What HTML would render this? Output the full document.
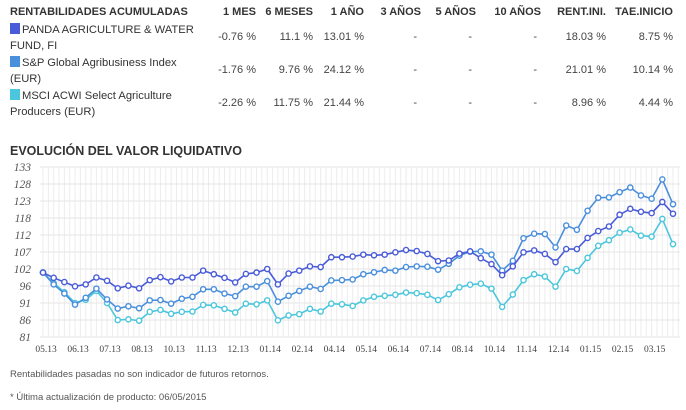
<!DOCTYPE html>
<html><head><meta charset="utf-8"><style>
body{margin:0;width:686px;height:410px;background:#fff;font-family:"Liberation Sans",Arial,sans-serif;color:#333;position:relative;overflow:hidden}
.a{position:absolute;white-space:nowrap}
.h{font-weight:bold;font-size:11px;color:#333;top:6px}
.v{font-size:11px;color:#444;text-align:right}
.n{font-size:11.2px;color:#333;left:10px;line-height:16px}
.sw{display:inline-block;width:10px;height:11px;margin-right:2px;vertical-align:-1px}
.f{font-size:9.5px;color:#555;left:10px}
</style></head><body>
<div class="a h" style="left:10px">RENTABILIDADES ACUMULADAS</div>
<div class="a h" style="right:430px">1 MES</div>
<div class="a h" style="right:373px">6 MESES</div>
<div class="a h" style="right:322px">1 AÑO</div>
<div class="a h" style="right:265px">3 AÑOS</div>
<div class="a h" style="right:210px">5 AÑOS</div>
<div class="a h" style="right:145px">10 AÑOS</div>
<div class="a h" style="right:80px">RENT.INI.</div>
<div class="a h" style="right:13px">TAE.INICIO</div>

<div class="a n" style="top:22px"><span class="sw" style="background:#4a5bd8"></span>PANDA AGRICULTURE &amp; WATER<br>FUND, FI</div>
<div class="a n" style="top:55px"><span class="sw" style="background:#4a8fdc"></span>S&amp;P Global Agribusiness Index<br>(EUR)</div>
<div class="a n" style="top:88px"><span class="sw" style="background:#4cc6dc"></span>MSCI ACWI Select Agriculture<br>Producers (EUR)</div>
<div id="vals"></div>

<div class="a" style="left:10px;top:144px;font-weight:bold;font-size:12.5px;color:#333">EVOLUCIÓN DEL VALOR LIQUIDATIVO</div>
<svg id="ch" class="a" style="left:0;top:155px" width="686" height="205"></svg>
<div class="a f" style="top:369px">Rentabilidades pasadas no son indicador de futuros retornos.</div>
<div class="a f" style="top:392px">* Última actualización de producto: 06/05/2015</div>
<script>
const rowVals=[["-0.76 %","11.1 %","13.01 %","-","-","-","18.03 %","8.75 %"],["-1.76 %","9.76 %","24.12 %","-","-","-","21.01 %","10.14 %"],["-2.26 %","11.75 %","21.44 %","-","-","-","8.96 %","4.44 %"]];
const colRight=[430,373,322,265,210,145,80,13];
const rowTop=[31,64,97];
const vd=document.getElementById('vals');
rowVals.forEach((r,i)=>r.forEach((t,j)=>{const d=document.createElement('div');d.className='a v';


d.style.right=(colRight[j]+(t=='-'?4:0))+'px';d.style.top=rowTop[i]+'px';d.textContent=t;vd.appendChild(d);}));

const fund=[100.7,99.1,97.8,96.5,97.1,99.2,98.2,95.9,96.7,95.9,98.4,99.3,98.0,99.2,99.2,101.3,100.2,99.1,97.7,100.3,100.7,101.8,97.1,100.4,101.3,102.6,102.4,105.4,105.4,105.6,106.2,106.0,106.2,106.9,107.6,107.3,106.4,104.2,104.4,106.5,107.2,105.1,103.3,99.9,102.6,106.9,107.5,106.4,103.9,107.9,107.9,111.3,113.4,114.8,118.4,120.2,119.3,118.9,122.3,118.7];
const sp=[100.7,97.1,94.3,90.9,93.0,95.8,92.5,89.7,90.4,89.8,92.2,92.3,91.2,92.7,93.3,95.6,95.6,94.3,93.5,96.4,96.4,98.1,91.8,93.6,95.1,96.4,95.7,98.3,98.4,98.6,100.2,100.8,101.5,101.3,102.4,102.6,102.5,101.6,103.4,105.9,107.1,107.2,106.2,101.3,104.3,111.2,112.6,112.5,108.4,115.1,113.8,119.6,123.6,123.7,125.3,126.7,124.3,123.3,129.2,121.6];
const msci=[100.7,97.5,94.7,91.4,92.4,95.1,91.4,86.2,86.4,86.0,88.7,89.3,88.1,88.7,88.8,90.8,90.7,89.6,88.5,91.2,91.0,92.2,86.1,87.6,88.0,89.6,88.8,91.2,91.0,90.5,92.2,93.3,93.6,93.9,94.6,94.4,93.9,92.3,94.1,96.2,97.0,97.3,95.8,90.2,94.0,98.4,100.2,99.5,96.4,101.8,101.2,105.2,108.9,110.6,112.9,113.9,112.0,111.7,117.1,109.4];
const yTicks=["81","86","91","96","102","107","112","118","123","128","133"];
const xLabels=["05.13","06.13","07.13","08.13","10.13","11.13","12.13","01.14","02.14","04.14","05.14","06.14","07.14","08.14","10.14","11.14","12.14","01.15","02.15","03.15"];
const yMin=81,yMax=133,top0=12,bot=182,x0=43,x1=673;
const N=fund.length;
const X=i=>x0+(x1-x0)*i/(N-1);
const Y=v=>bot-(v-yMin)/(yMax-yMin)*(bot-top0);
const svg=document.getElementById('ch');const NS='http://www.w3.org/2000/svg';
function el(t,a){const e=document.createElementNS(NS,t);for(const k in a)e.setAttribute(k,a[k]);svg.appendChild(e);return e;}
for(let i=0;i<=2*(N-1)+1;i++){const x=x0+(x1-x0)*i/(2*(N-1));const g=el('line',{x1:x,x2:x,y1:top0,y2:bot,stroke:'#ececec','stroke-width':1});

}
yTicks.forEach((t,i)=>{const v=yMin+(yMax-yMin)*i/(yTicks.length-1);const y=Y(v);
const g=el('line',{x1:x0-3,x2:680,y1:y,y2:y,stroke:'#e6e6e6'});


const tx=el('text',{x:31,y:y+4,'text-anchor':'end','font-family':'"Liberation Serif",serif','font-style':'italic','font-size':'11.5',fill:'#555'});tx.textContent=t;

});
xLabels.forEach((t,i)=>{const tx=el('text',{x:X(i*3)+3,y:bot+15,'text-anchor':'middle','font-family':'"Liberation Serif",serif','font-size':'9.5',fill:'#444'});tx.textContent=t;

});
[[msci,'#4cc6dc','msci-series'],[sp,'#4a8fdc','sp-series'],[fund,'#4a5bd8','fund-series']].forEach(([d,c,n])=>{
const p=el('polyline',{points:d.map((v,i)=>X(i)+','+Y(v)).join(' '),fill:'none',stroke:c,'stroke-width':1.6});


d.forEach((v,i)=>{const ci=el('circle',{cx:X(i),cy:Y(v),r:2.6,fill:'#fff',stroke:c,'stroke-width':1.4});

});});
</script>
</body></html>
